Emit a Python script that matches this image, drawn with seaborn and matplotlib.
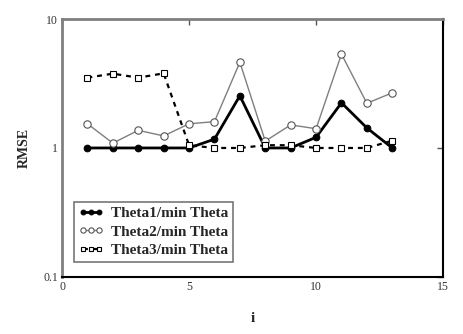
import matplotlib
matplotlib.use("Agg")
import matplotlib.pyplot as plt
import matplotlib.ticker as mticker
import pandas as pd
import seaborn as sns

# RMSE ratios per index i
idx = [1, 2, 3, 4, 5, 6, 7, 8, 9, 10, 11, 12, 13]
theta1 = [1.0, 1.0, 1.0, 1.0, 1.0, 1.17, 2.54, 1.0, 1.0, 1.21, 2.24, 1.43, 1.0]
theta2 = [1.54, 1.09, 1.37, 1.24, 1.54, 1.60, 4.62, 1.13, 1.51, 1.41, 5.34, 2.22, 2.68]
theta3 = [3.51, 3.77, 3.51, 3.79, 1.05, 1.0, 1.0, 1.05, 1.05, 1.0, 1.0, 1.0, 1.14]
labels = ["Theta1/min Theta", "Theta2/min Theta", "Theta3/min Theta"]

x_ticks = [0, 5, 10, 15]
y_ticks = [0.1, 1, 10]

sns.set_style("white")
plt.rcParams["font.family"] = ["Liberation Serif", "DejaVu Serif"]

df = pd.DataFrame({"i": idx, labels[0]: theta1, labels[1]: theta2, labels[2]: theta3})

fig = plt.figure(figsize=(4.63, 3.34), dpi=100)
ax = fig.add_axes([0.134, 0.171, 0.823, 0.772])

sns.lineplot(data=df, x="i", y=labels[0], ax=ax, color="black", linewidth=2,
             marker="o", markersize=4.8, markerfacecolor="black",
             markeredgecolor="black", label=labels[0])
sns.lineplot(data=df, x="i", y=labels[1], ax=ax, color="#7f7f7f", linewidth=1,
             marker="o", markersize=5.3, markerfacecolor="white",
             markeredgecolor="#555555", markeredgewidth=0.8, label=labels[1])
sns.lineplot(data=df, x="i", y=labels[2], ax=ax, color="black", linewidth=1.6,
             linestyle=(0, (2.2, 2.2)), marker="s", markersize=4.6,
             markerfacecolor="white", markeredgecolor="black",
             markeredgewidth=0.8, label=labels[2])

ax.set_yscale("log")
ax.set_xlim(0, 15)
ax.set_ylim(0.1, 10)
ax.set_xticks(x_ticks)
ax.set_yticks(y_ticks)
ax.xaxis.set_major_formatter(mticker.FuncFormatter(lambda v, p: f"{v:g}"))
ax.yaxis.set_major_formatter(mticker.FuncFormatter(lambda v, p: f"{v:g}"))
ax.yaxis.set_minor_locator(mticker.NullLocator())
ax.tick_params(axis="both", direction="in", length=4, width=1, labelsize=8.5,
               top=True, right=True, colors="#555555", labelcolor="#333333", pad=3)

ax.set_xlabel("i", fontsize=11, fontweight="bold", labelpad=14)
ax.set_ylabel("RMSE", fontsize=10, fontweight="bold", labelpad=9)

for side in ("left", "top"):
    ax.spines[side].set_color("#808080")
    ax.spines[side].set_linewidth(2)
for side in ("right", "bottom"):
    ax.spines[side].set_color("black")
    ax.spines[side].set_linewidth(1.5)

leg = ax.legend(loc="lower left", bbox_to_anchor=(0.012, 0.03), numpoints=3,
                markerscale=0.72, handlelength=1.6, handletextpad=0.5,
                borderpad=0.3, labelspacing=0.3, frameon=True, fancybox=False,
                prop={"weight": "bold", "size": 11})
leg.get_frame().set_edgecolor("#555555")
leg.get_frame().set_linewidth(1.2)

fig.savefig("out.png", dpi=100)
